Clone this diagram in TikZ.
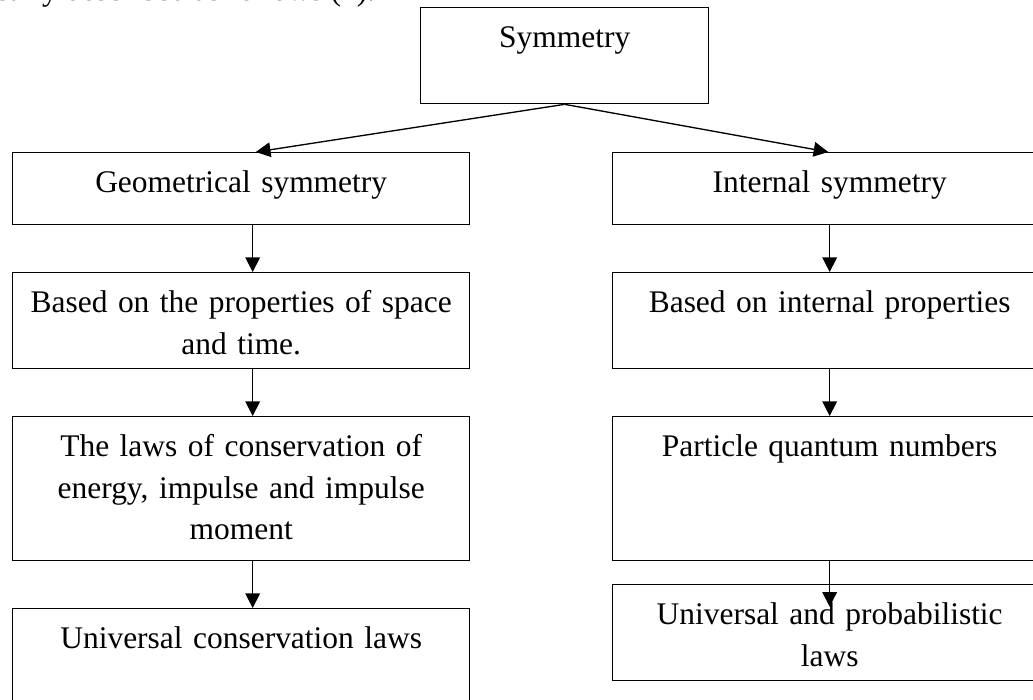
\documentclass[tikz,border=0pt]{standalone}
\usepackage{fontspec}
\setmainfont{Liberation Serif}
\usetikzlibrary{arrows.meta}
\tikzset{
  box/.style={draw, line width=1pt, anchor=north west, align=center, inner ysep=0pt,
    text height=30pt, font=\fontsize{23.6}{31.1}\selectfont},
  lbox/.style={box, text width=328pt, inner xsep=7.4pt},
  rbox/.style={box, text width=290pt, inner xsep=17.75pt},
  flow/.style={line width=1pt, -{Triangle[length=11pt,width=11pt]}}
}
\begin{document}
\begin{tikzpicture}[x=0.75pt, y=-0.75pt]
 \useasboundingbox (0,0) rectangle (1033,700);
 \node[anchor=base west, inner sep=0pt, font=\fontsize{23.6}{31.1}\selectfont] (intro) at (-28,0.6) {clearly described as follows (1).};
 \node[box, text width=216pt, inner xsep=0pt, text depth=42pt] (sym) at (420,7) {Symmetry};
 % left column
 \node[lbox, text depth=24pt] (geom) at (12,152) {Geometrical symmetry};
 \node[lbox, text depth=42pt] (gbase) at (12,272) {Based on the properties of space\\ and time.};
 \node[lbox, text depth=78pt] (glaws) at (12,416) {The laws of conservation of\\ energy, impulse and impulse\\ moment};
 \node[lbox, text depth=42pt] (guniv) at (12,608) {Universal conservation laws};
 % right column
 \node[rbox, text depth=24pt] (intl) at (612,152) {Internal symmetry};
 \node[rbox, text depth=42pt] (ibase) at (612,272) {Based on internal properties};
 \node[rbox, text depth=78pt] (iquant) at (612,416) {Particle quantum numbers};
 \node[rbox, text depth=42pt] (iuniv) at (612,584) {Universal and probabilistic\\ laws};
 % arrows
 \draw[flow] (sym.south) -- ([xshift=11pt]geom.north);
 \draw[flow] (sym.south) -- ([xshift=-1pt]intl.north);
 \draw[flow] ([xshift=8.6pt]geom.south) -- ([xshift=8.6pt]gbase.north);
 \draw[flow] ([xshift=8.6pt]gbase.south) -- ([xshift=8.6pt]glaws.north);
 \draw[flow] ([xshift=8.6pt]glaws.south) -- ([xshift=8.6pt]guniv.north);
 \draw[flow] (intl.south) -- (ibase.north);
 \draw[flow] (ibase.south) -- (iquant.north);
 \draw[flow] (iquant.south) -- ([yshift=-17pt]iuniv.north);
\end{tikzpicture}
\end{document}
